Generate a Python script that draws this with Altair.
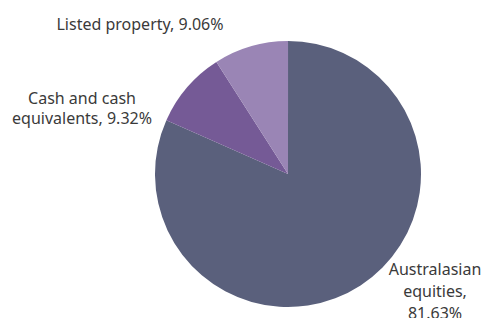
import altair as alt
import pandas as pd
import math

categories = ["Australasian equities", "Cash and cash equivalents", "Listed property"]
values = [81.63, 9.32, 9.06]
label_lines = [["Australasian", "equities,", "81.63%"],
               ["Cash and cash", "equivalents, 9.32%"],
               ["Listed property, 9.06%"]]
colors = ["#5a607c", "#755a96", "#9a85b5"]

df = pd.DataFrame({"category": categories, "value": values,
                   "label": label_lines, "order": [0, 1, 2]})

CX, CY, R = 280, 166, 133

base = alt.Chart(df)

pie = base.mark_arc(radius=R).encode(
    x=alt.value(CX), y=alt.value(CY),
    theta=alt.Theta("value:Q", stack=True, scale=alt.Scale(domain=[0, 100])),
    order=alt.Order("order:Q"),
    color=alt.Color("category:N", scale=alt.Scale(domain=categories, range=colors), legend=None),
)

# where the first line of each label sits, relative to the pie centre
targets = {
    "Australasian equities": (147, 96),
    "Cash and cash equivalents": (-206, -75),
    "Listed property": (-148, -149),
}
line_heights = {
    "Australasian equities": 22,
    "Cash and cash equivalents": 20,
    "Listed property": 20,
}

layers = [pie]
for cat in categories:
    idx = categories.index(cat)
    start = sum(values[:idx]) / 100 * 2 * math.pi
    mid = start + values[idx] / 200 * 2 * math.pi
    rr = 120
    px, py = rr * math.sin(mid), -rr * math.cos(mid)
    tx, ty = targets[cat]
    txt = base.transform_window(
        cumsum="sum(value)", sort=[alt.SortField("order")]
    ).transform_calculate(
        mid="datum.cumsum - datum.value/2"
    ).transform_filter(
        alt.datum.category == cat
    ).mark_text(
        radius=rr, dx=tx - px, dy=ty - py, align="center", baseline="middle",
        font="Noto Sans", fontSize=16, lineHeight=line_heights[cat], color="#3a3a3a",
    ).encode(
        x=alt.value(CX), y=alt.value(CY),
        theta=alt.Theta("mid:Q", scale=alt.Scale(domain=[0, 100], range=[0, 2 * math.pi])),
        text="label",
    )
    layers.append(txt)

chart = alt.layer(*layers).properties(
    width=475, height=310, padding=0,
    autosize=alt.AutoSizeParams(type="none"),
).configure_view(stroke=None)

chart.save("out.html", embed_options={"renderer": "svg", "actions": False})
